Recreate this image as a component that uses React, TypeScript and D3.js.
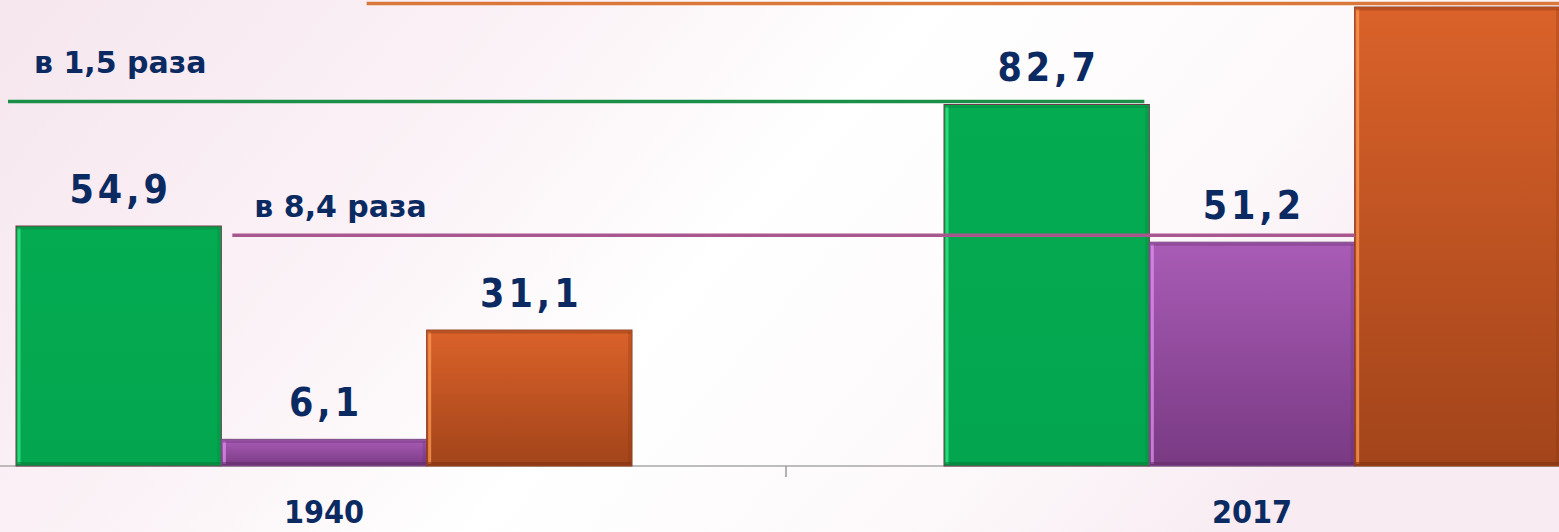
import React from "react";
import * as d3 from "d3";

const categories = ["1940", "2017"];
const seriesKeys = ["green", "purple", "orange"];
const greenValues = [54.9, 82.7];
const purpleValues = [6.1, 51.2];
const orangeValues = [31.1, 105];
const greenLabels = ["54,9", "82,7"];
const purpleLabels = ["6,1", "51,2"];
const orangeLabels = ["31,1", ""];
const ratioLabels = ["в 1,5 раза", "в 8,4 раза", ""];

const W = 1559;
const H = 532;
const FONT = "'DejaVu Sans Condensed', 'DejaVu Sans', sans-serif";
const FONT_WIDE = "'DejaVu Sans', sans-serif";
const NAVY = "#0c2a62";

const seriesValues = [greenValues, purpleValues, orangeValues];
const seriesLabels = [greenLabels, purpleLabels, orangeLabels];

const palette: Record<string, { top: string; bottom: string; hi: string; dark: string; line: string; edge: string }> = {
  green: { top: "#04ab51", bottom: "#03a64e", hi: "#35ec85", dark: "#027a38", line: "#1b8f47", edge: "#6b3946" },
  purple: { top: "#a95cb6", bottom: "#793a83", hi: "#e08ef0", dark: "#5e2a66", line: "#a9578f", edge: "#7a4a80" },
  orange: { top: "#da622a", bottom: "#a2441a", hi: "#ff9a55", dark: "#7e3210", line: "#d9783a", edge: "#8a3a1c" },
};

export default function App() {
  const x0 = d3.scaleBand<string>().domain(categories).range([-142, 1714]).padding(0);
  const groupW = 616;
  const x1 = d3.scaleBand<string>().domain(seriesKeys).range([0, groupW]).padding(0);
  const y = d3.scaleLinear().domain([0, 105]).range([466, 7]);
  const gx = (c: string) => (x0(c) ?? 0) + (x0.bandwidth() - groupW) / 2 + 2;
  const bw = x1.bandwidth();
  const barX = (ci: number, si: number) => gx(categories[ci]) + (x1(seriesKeys[si]) ?? 0);

  // comparison lines
  const lineOffsets = [3, 7, 3.5];
  const lines = seriesKeys.map((k, si) => {
    const vmax = d3.max(seriesValues[si]) as number;
    const ly = y(vmax) - lineOffsets[si];
    let xs: number, xe: number;
    if (si === 0) {
      xs = barX(0, 0) - 8;
      xe = barX(1, 0) + bw - 5;
    } else if (si === 1) {
      xs = barX(0, 1) + 11;
      xe = barX(1, 1) + bw;
    } else {
      xs = barX(0, 2) - 60;
      xe = W + 5;
    }
    return { k, si, ly, xs, xe };
  });
  const ratioPos = [
    { dx: 18, dy: -28 },
    { dx: 33, dy: -18 },
    { dx: 0, dy: 0 },
  ];

  const baseY = y(0);
  const tickX = x0("2017") ?? 0;

  return (
    <svg width={W} height={H} style={{ position: "absolute", left: 0, top: 0, display: "block" }}>
      <defs>
        <linearGradient id="bg" x1="0" y1="0" x2="1" y2="0.3">
          <stop offset="0" stopColor="#f6e6ee" />
          <stop offset="0.35" stopColor="#fbf3f7" />
          <stop offset="0.55" stopColor="#ffffff" />
          <stop offset="0.8" stopColor="#fdf9fb" />
          <stop offset="1" stopColor="#f8ecf2" />
        </linearGradient>
        {seriesKeys.map((k) => (
          <linearGradient key={k} id={`g-${k}`} x1="0" y1="0" x2="0" y2="1">
            <stop offset="0" stopColor={palette[k].top} />
            <stop offset="1" stopColor={palette[k].bottom} />
          </linearGradient>
        ))}
        <filter id="blur" x="-5%" y="-200%" width="110%" height="500%">
          <feGaussianBlur stdDeviation="1.2" />
        </filter>
      </defs>
      <rect x={0} y={0} width={W} height={H} fill="url(#bg)" />

      {/* baseline */}
      <line x1={0} x2={W} y1={baseY} y2={baseY} stroke="#a8a8a8" strokeWidth={1.5} />
      <line x1={tickX} x2={tickX} y1={baseY} y2={baseY + 11} stroke="#9a9a9a" strokeWidth={1.5} />

      {/* bars */}
      {seriesKeys.map((k, si) =>
        categories.map((c, ci) => {
          const v = seriesValues[si][ci];
          const bx = barX(ci, si);
          const by = y(v);
          const bh = baseY - by;
          const p = palette[k];
          return (
            <g key={`${k}-${c}`}>
              <rect x={bx} y={by} width={bw} height={bh} fill={`url(#g-${k})`} stroke={p.edge} strokeWidth={1} />
              <rect x={bx + 1.5} y={by + 2} width={3} height={Math.max(0, bh - 4)} fill={p.hi} opacity={0.75} />
              <rect x={bx + 1} y={baseY - 4} width={bw - 2} height={3} fill={p.dark} opacity={0.55} />
              <rect x={bx + bw - 4} y={by + 2} width={3} height={Math.max(0, bh - 4)} fill={p.dark} opacity={0.25} />
              <rect x={bx + 1} y={by + 1} width={bw - 2} height={2.5} fill={p.dark} opacity={0.35} />
            </g>
          );
        })
      )}

      {/* comparison lines */}
      {lines.map((l) => (
        <g key={`line-${l.k}`}>
          <line x1={l.xs} x2={l.xe} y1={l.ly + 4} y2={l.ly + 4} stroke="#808080" strokeWidth={4} opacity={0.85} filter="url(#blur)" />
          <line x1={l.xs} x2={l.xe} y1={l.ly} y2={l.ly} stroke={palette[l.k].line} strokeWidth={3.5} />
        </g>
      ))}

      {/* ratio labels */}
      {lines.map((l, si) =>
        ratioLabels[si] ? (
          <text
            key={`ratio-${si}`}
            x={barX(0, si) + ratioPos[si].dx}
            y={l.ly + ratioPos[si].dy}
            fontFamily={FONT_WIDE}
            fontWeight="bold"
            fontSize={30}
            fill={NAVY}
          >
            {ratioLabels[si]}
          </text>
        ) : null
      )}

      {/* value labels */}
      {seriesKeys.map((k, si) =>
        categories.map((c, ci) =>
          seriesLabels[si][ci] ? (
            <text
              key={`val-${k}-${c}`}
              x={barX(ci, si) + bw / 2 + 2}
              y={y(seriesValues[si][ci]) - 23}
              textAnchor="middle"
              fontFamily={FONT}
              fontWeight="bold"
              fontSize={39}
              letterSpacing={4}
              fill={NAVY}
            >
              {seriesLabels[si][ci]}
            </text>
          ) : null
        )
      )}

      {/* category labels */}
      {categories.map((c) => (
        <text
          key={`cat-${c}`}
          x={(x0(c) ?? 0) + x0.bandwidth() / 2 + 2}
          y={523}
          textAnchor="middle"
          fontFamily={FONT}
          fontWeight="bold"
          fontSize={32}
          fill={NAVY}
        >
          {c}
        </text>
      ))}
    </svg>
  );
}
